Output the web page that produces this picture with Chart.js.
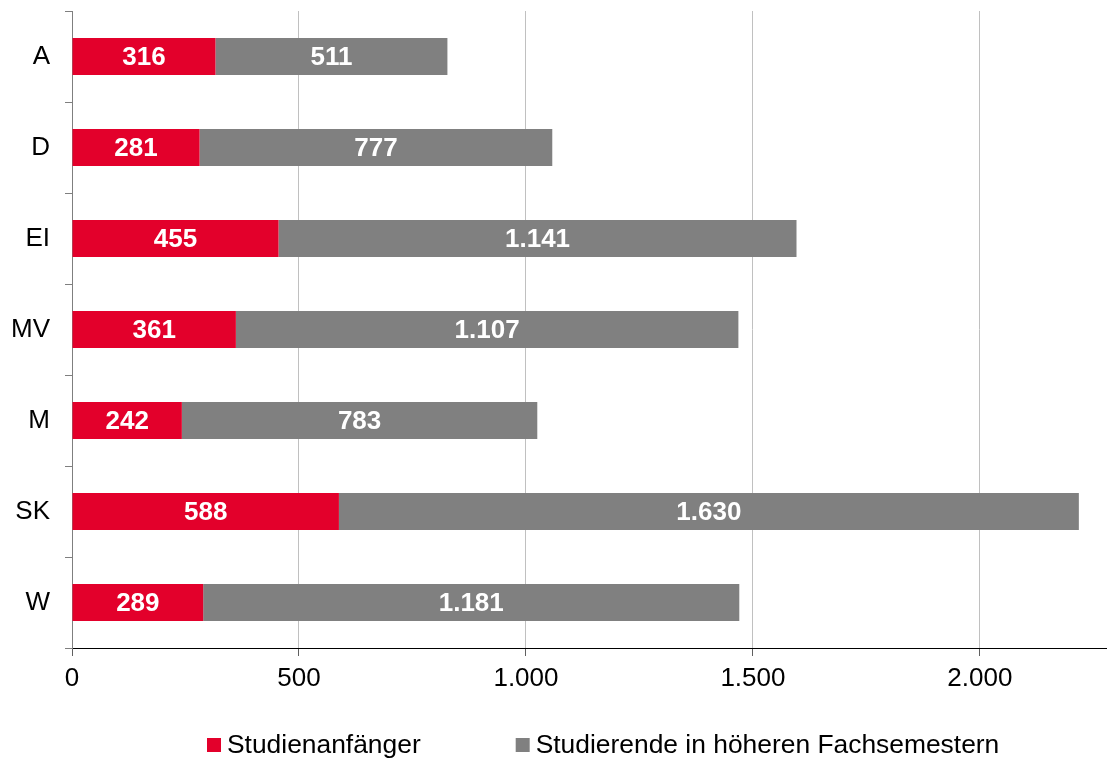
<!DOCTYPE html>
<html>
<head>
<meta charset="utf-8">
<script src="https://cdn.jsdelivr.net/npm/chart.js@4/dist/chart.umd.min.js"></script>
<style>
  body { margin: 0; background: #fff; }
  canvas { display: block; }
</style>
</head>
<body>
<canvas id="studChart" width="1107" height="760"></canvas>
<script>
// data
const faculties = ['A', 'D', 'EI', 'MV', 'M', 'SK', 'W'];
const anfaenger = [316, 281, 455, 361, 242, 588, 289];
const hoehere = [511, 777, 1141, 1107, 783, 1630, 1181];
const xTicks = [0, 500, 1000, 1500, 2000];
const seriesNames = ['Studienanfänger', 'Studierende in höheren Fachsemestern'];

const RED = '#e3002b';
const GREY = '#808080';
const FONT = '"Liberation Sans", Arial, sans-serif';

Chart.defaults.font.family = FONT;
Chart.defaults.color = '#000';

// 1.141 instead of 1,141
function fmt(v) {
    return String(v).replace(/\B(?=(\d{3})+(?!\d))/g, '.');
}

// white numbers inside the bars
const barLabels = {
    id: 'barLabels',
    afterDatasetsDraw(chart) {
        const ctx = chart.ctx;
        ctx.save();
        ctx.font = 'bold 26px ' + FONT;
        ctx.fillStyle = '#fff';
        ctx.textAlign = 'center';
        ctx.textBaseline = 'middle';
        chart.data.datasets.forEach((ds, i) => {
            chart.getDatasetMeta(i).data.forEach((bar, j) => {
                const p = bar.getProps(['x', 'y', 'base'], true);
                ctx.fillText(fmt(ds.data[j]), (p.x + p.base) / 2, p.y + 1);
            });
        });
        ctx.restore();
    }
};

// legend drawn by hand, the built-in one can't do the wide gap
const bottomLegend = {
    id: 'bottomLegend',
    afterDraw(chart) {
        const ctx = chart.ctx;
        const box = 14, gap = 6, itemGap = 95;
        let x = 207;
        const y = 745;
        ctx.save();
        ctx.font = '26.4px ' + FONT;
        ctx.textBaseline = 'middle';
        ctx.textAlign = 'left';
        chart.data.datasets.forEach(ds => {
            ctx.fillStyle = ds.backgroundColor;
            ctx.fillRect(x, y - box / 2, box, box);
            ctx.fillStyle = '#000';
            ctx.fillText(ds.label, x + box + gap, y + 1);
            x += box + gap + ctx.measureText(ds.label).width + itemGap;
        });
        ctx.restore();
    }
};

const ctx1 = document.getElementById('studChart').getContext('2d');

const studChart = new Chart(ctx1, {
    type: 'bar',
    data: {
        labels: faculties,
        datasets: [{
            label: seriesNames[0],
            data: anfaenger,
            backgroundColor: RED,
            categoryPercentage: 1,
            barPercentage: 0.405
        }, {
            label: seriesNames[1],
            data: hoehere,
            backgroundColor: GREY,
            categoryPercentage: 1,
            barPercentage: 0.405
        }]
    },
    options: {
        indexAxis: 'y',
        responsive: false,
        animation: false,
        devicePixelRatio: 1,
        layout: {
            padding: { top: 11, right: 0, bottom: 62, left: 0 }
        },
        plugins: {
            legend: { display: false },
            tooltip: { enabled: false }
        },
        scales: {
            x: {
                type: 'linear',
                stacked: true,
                min: 0,
                max: 2280,
                afterBuildTicks: s => { s.ticks = xTicks.map(v => ({ value: v })); },
                afterFit: s => {
                    s.height = 50;
                    s.paddingLeft = 0;
                    s.paddingRight = 0;
                },
                ticks: {
                    callback: v => fmt(v),
                    font: { size: 26 },
                    color: '#000',
                    padding: 7,
                    maxRotation: 0,
                    autoSkip: false
                },
                grid: {
                    color: '#c0c0c0',
                    tickColor: '#606060',
                    tickLength: 8
                },
                border: { color: '#000', width: 1 }
            },
            y: {
                stacked: true,
                offset: true,
                afterFit: s => {
                    s.width = 72;
                    s.paddingTop = 0;
                    s.paddingBottom = 0;
                },
                ticks: {
                    font: { size: 26 },
                    color: '#000',
                    padding: 15
                },
                grid: {
                    offset: true,
                    drawOnChartArea: false,
                    tickLength: 7,
                    tickColor: '#7f7f7f'
                },
                border: { color: '#7f7f7f', width: 1 }
            }
        }
    },
    plugins: [barLabels, bottomLegend]
});
</script>
</body>
</html>
